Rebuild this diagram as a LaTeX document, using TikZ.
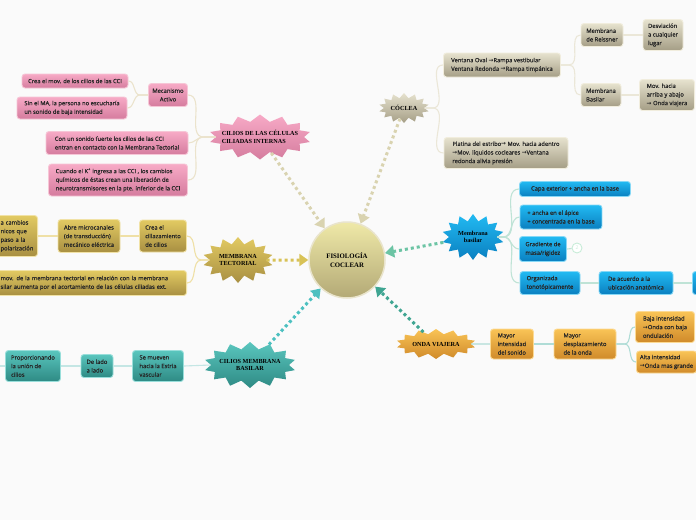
\documentclass[tikz,border=0pt]{standalone}
\usepackage{fontspec}
\setmainfont{Open Sans}
\newfontfamily\boxfont[BoldFont={Open Sans},BoldFeatures={FakeBold=0.5}]{Open Sans}
\newfontfamily\titlefont{Liberation Serif}
\newfontfamily\djv{DejaVu Sans}
\newcommand\myarr{{\djv →}}
\usetikzlibrary{shapes.symbols,arrows.meta}
\definecolor{bg}{HTML}{FAFAFA}
\definecolor{txt}{HTML}{262626}
\definecolor{pinkT}{HTML}{F7AAC6}\definecolor{pinkB}{HTML}{D57C9E}\definecolor{pinkE}{HTML}{F6C6D6}
\definecolor{goldT}{HTML}{E2CA62}\definecolor{goldB}{HTML}{A88F42}\definecolor{goldE}{HTML}{F1E2A6}
\definecolor{tealT}{HTML}{5AC6BE}\definecolor{tealB}{HTML}{2E8A84}\definecolor{tealE}{HTML}{98DEDA}
\definecolor{beigeT}{HTML}{E6E2CE}\definecolor{beigeB}{HTML}{A59E86}\definecolor{beigeE}{HTML}{F1EDDD}
\definecolor{blueT}{HTML}{22BAF2}\definecolor{blueB}{HTML}{0A7FC0}\definecolor{blueE}{HTML}{86D8F6}
\definecolor{oranT}{HTML}{F9C456}\definecolor{oranB}{HTML}{D08A2A}\definecolor{oranE}{HTML}{FCDA94}
\definecolor{hubT}{HTML}{EFE9A8}\definecolor{hubB}{HTML}{B3A976}\definecolor{hubE}{HTML}{E9E4CC}
\definecolor{pinkL}{HTML}{EBE3CC}\definecolor{goldL}{HTML}{EFE0A6}\definecolor{tealL}{HTML}{C4E6E4}
\definecolor{beigeL}{HTML}{EBE7D8}\definecolor{blueL}{HTML}{BFE3D6}\definecolor{oranL}{HTML}{AFDCD6}
\definecolor{aBeige}{HTML}{D9D3B0}\definecolor{aGold}{HTML}{D8C256}\definecolor{aGreen}{HTML}{6CC4A4}
\definecolor{aTeal}{HTML}{4CC0C0}\definecolor{aDark}{HTML}{3FA592}
\definecolor{twoC}{HTML}{C8ECD8}
\tikzset{
  box/.style={rounded corners=3pt, font=\boxfont\bfseries\fontsize{5.8}{8.6}\selectfont, text=txt, align=left,
    inner xsep=3.5pt, inner ysep=2pt, line width=0.9pt},
  pinkbox/.style={box, top color=pinkT, bottom color=pinkB, draw=pinkE},
  goldbox/.style={box, top color=goldT, bottom color=goldB, draw=goldE},
  tealbox/.style={box, top color=tealT, bottom color=tealB, draw=tealE},
  beigebox/.style={box, top color=beigeT, bottom color=beigeB, draw=beigeE},
  bluebox/.style={box, top color=blueT, bottom color=blueB, draw=blueE},
  oranbox/.style={box, top color=oranT, bottom color=oranB, draw=oranE},
  burst/.style={starburst, starburst points=14, starburst point height=7pt, random starburst=0,
    font=\titlefont\bfseries\fontsize{6.2}{7.6}\selectfont, text=black, align=center, inner sep=1pt},
  hubarrow/.style={line width=3pt, dash pattern=on 3pt off 3pt, -{Triangle[length=9pt,width=12pt]}},
  link/.style={line width=1.1pt},
}
\begin{document}
\begin{tikzpicture}[x=1pt,y=-1pt]
\useasboundingbox[fill=bg] (0,0) rectangle (696,520);

% ---------- hub ----------
\node[circle, minimum size=76pt, top color=hubT, bottom color=hubB, draw=hubE, line width=1.5pt,
  font=\titlefont\bfseries\fontsize{6.8}{8.6}\selectfont, align=center] (hub) at (347,260) {FISIOLOGÍA\\COCLEAR};

% ---------- pink ----------
\node[burst, top color=pinkT, bottom color=pinkB, minimum width=100pt, minimum height=45pt, inner xsep=-7pt, align=left] (cci) at (260,137) {CILIOS DE LAS CÉLULAS\\CILIADAS INTERNAS};
\node[pinkbox, minimum width=39pt, minimum height=23pt, align=center] (mec) at (168,95) {Mecanismo\\Activo};
\node[pinkbox, minimum width=106pt, minimum height=14pt] (p1) at (75,81) {Crea el mov. de los cilios de las CCI};
\node[pinkbox, minimum width=110pt, minimum height=22pt] (p2) at (72,108) {Sin el MA, la persona no escucharía\\un sonido de baja intensidad};
\node[pinkbox, minimum width=142pt, minimum height=23pt] (p3) at (117,143) {Con un sonido fuerte los cilios de las CCI\\entran en contacto con la Membrana Tectorial};
\node[pinkbox, minimum width=139pt, minimum height=32pt] (p4) at (118,180) {Cuando el K\textsuperscript{+} ingresa a las CCI , los cambios\\químicos de éstas crean una liberación de\\neurotransmisores en la pte. inferior de la CCI};

% ---------- gold ----------
\node[burst, top color=goldT, bottom color=goldB, minimum width=62pt, minimum height=46pt] (mt) at (238,260) {MEMBRANA\\TECTORIAL};
\node[goldbox, minimum width=47pt, minimum height=32pt] (g1) at (163,236) {Crea el\\cillazamiento\\de cilios};
\node[goldbox, minimum width=62pt, minimum height=33pt] (g2) at (89,236) {Abre microcanales\\(de transducción)\\mecánico eléctrica};
\node[goldbox, anchor=east, text width=52pt, inner xsep=3pt, minimum height=41pt] (g3) at (38,236)
  {\hspace*{18pt}a cambios\\\hspace*{18pt}nicos que\\\hspace*{18pt}paso a la\\\hspace*{18pt}polarización};
\node[goldbox, anchor=east, text width=200pt, inner xsep=3pt, minimum height=25pt] (g4) at (187,283)
  {\hspace*{17pt}mov. de la membrana tectorial en relación con la membrana\\\hspace*{17pt}silar aumenta por el acortamiento de las células ciliadas ext.};

% ---------- teal ----------
\node[burst, top color=tealT, bottom color=tealB, minimum width=92pt, minimum height=46pt, inner xsep=-3pt] (cmb) at (250,365) {CILIOS MEMBRANA\\BASILAR};
\node[tealbox, minimum width=51pt, minimum height=31pt] (t1) at (158,366) {Se mueven\\hacia la Estria\\vascular};
\node[tealbox, minimum width=32pt, minimum height=23pt] (t2) at (97,366) {De lado\\a lado};
\node[tealbox, minimum width=55pt, minimum height=31pt] (t3) at (33,366) {Proporcionando\\la unión de\\cilios};
\coordinate (tl) at (0,366);

% ---------- beige ----------
\node[burst, top color=beigeT, bottom color=beigeB, minimum width=42pt, minimum height=30pt, starburst point height=5pt] (coc) at (404,108) {CÓCLEA};
\node[beigebox, minimum width=117pt, minimum height=24pt] (b1) at (502,65) {Ventana Oval \myarr Rampa vestibular\\Ventana Redonda \myarr Rampa timpánica};
\node[beigebox, minimum width=124pt, minimum height=31pt] (b2) at (506,153) {Platina del estribo\myarr{} Mov. hacia adentro\\\myarr Mov. líquidos cocleares \myarr Ventana\\redonda alivia presión};
\node[beigebox, minimum width=42pt, minimum height=23pt] (b3) at (602,35) {Membrana\\de Reissner};
\node[beigebox, minimum width=40pt, minimum height=23pt] (b4) at (601,95) {Membrana\\Basilar};
\node[beigebox, minimum width=40pt, minimum height=31pt] (b5) at (663,35) {Desviación\\a cualquier\\lugar};
\node[beigebox, minimum width=55pt, minimum height=31pt] (b6) at (667,95) {Mov. hacia\\arriba y abajo\\\myarr{} Onda viajera};

% ---------- blue ----------
\node[burst, top color=blueT, bottom color=blueB, minimum width=62pt, minimum height=46pt] (mb) at (473,237) {Membrana\\basilar};
\node[bluebox, minimum width=111pt, minimum height=15pt] (u1) at (575,189) {Capa exterior + ancha en la base};
\node[bluebox, minimum width=82pt, minimum height=24pt] (u2) at (561,217) {+ ancha en el ápice\\+ concentrada en la base};
\node[bluebox, minimum width=47pt, minimum height=25pt] (u3) at (543,249) {Gradiente de\\masa/rigidez};
\node[circle, draw=twoC, line width=0.9pt, fill=white, minimum size=10pt, inner sep=0pt,
  font=\fontsize{5}{6}\selectfont, text=twoC] (two) at (577,248) {2};
\node[bluebox, minimum width=60pt, minimum height=23pt] (u4) at (550,283) {Organizada\\tonotópicamente};
\node[bluebox, minimum width=74pt, minimum height=23pt] (u5) at (636,283) {De acuerdo a la\\ubicación anatómica};
\node[bluebox, anchor=west, minimum width=30pt, minimum height=23pt] (u6) at (692,283) {};

% ---------- orange ----------
\node[burst, top color=oranT, bottom color=oranB, minimum width=72pt, minimum height=30pt, starburst point height=5pt] (ov) at (436,344) {ONDA VIAJERA};
\node[oranbox, minimum width=43pt, minimum height=30pt] (o1) at (512,344) {Mayor\\intensidad\\del sonido};
\node[oranbox, minimum width=62pt, minimum height=30pt] (o2) at (585,344) {Mayor\\desplazamiento\\de la onda};
\node[oranbox, minimum width=59pt, minimum height=31pt] (o3) at (665,327) {Baja intensidad\\\myarr Onda con baja\\ondulación};
\node[oranbox, anchor=west, minimum height=22pt] (o4) at (636,362) {Alta intensidad\\\myarr Onda mas grande};

% ---------- links ----------
\draw[link, pinkL] (cci.west) -- ++(-12,0) to[out=180,in=0] (mec.east);
\draw[link, pinkL] (cci.west) -- ++(-12,0) to[out=180,in=0] (p3.east);
\draw[link, pinkL] (cci.west) -- ++(-12,0) to[out=180,in=0] (p4.east);
\draw[link, pinkL] (mec.west) -- ++(-8,0) to[out=180,in=0] (p1.east);
\draw[link, pinkL] (mec.west) -- ++(-8,0) to[out=180,in=0] (p2.east);

\draw[link, goldL] (mt.west) -- ++(-8,0) to[out=180,in=0] (g1.east);
\draw[link, goldL] (mt.west) -- ++(-8,0) to[out=180,in=0] (g4.east);
\draw[link, goldL] (g1.west) -- (g2.east);
\draw[link, goldL] (g2.west) -- (g3.east);

\draw[link, tealL] (cmb.west) -- (t1.east);
\draw[link, tealL] (t1.west) -- (t2.east);
\draw[link, tealL] (t2.west) -- (t3.east);
\draw[link, tealL] (t3.west) -- (tl);

\draw[link, beigeL] (coc.east) -- ++(8,0) to[out=0,in=180] (b1.west);
\draw[link, beigeL] (coc.east) -- ++(8,0) to[out=0,in=180] (b2.west);
\draw[link, beigeL] (b1.east) -- ++(8,0) to[out=0,in=180] (b3.west);
\draw[link, beigeL] (b1.east) -- ++(8,0) to[out=0,in=180] (b4.west);
\draw[link, beigeL] (b3.east) -- (b5.west);
\draw[link, beigeL] (b4.east) -- (b6.west);

\draw[link, blueL] (mb.east) -- ++(6,0) to[out=0,in=180] (u1.west);
\draw[link, blueL] (mb.east) -- ++(6,0) to[out=0,in=180] (u2.west);
\draw[link, blueL] (mb.east) -- ++(6,0) to[out=0,in=180] (u3.west);
\draw[link, blueL] (mb.east) -- ++(6,0) to[out=0,in=180] (u4.west);
\draw[link, blueL] (u3.east) -- (two);
\draw[link, blueL] (u4.east) -- (u5.west);
\draw[link, blueL] (u5.east) -- (u6.west);

\draw[link, oranL] (ov.east) -- (o1.west);
\draw[link, oranL] (o1.east) -- (o2.west);
\draw[link, oranL] (o2.east) -- ++(8,0) to[out=0,in=180] (o3.west);
\draw[link, oranL] (o2.east) -- ++(8,0) to[out=0,in=180] (o4.west);

% ---------- hub arrows ----------
\draw[hubarrow, aBeige] (cci) -- (hub);
\draw[hubarrow, aBeige] (coc) -- (hub);
\draw[hubarrow, aGold] (mt) -- (hub);
\draw[hubarrow, aGreen] (mb) -- (hub);
\draw[hubarrow, aTeal] (cmb) -- (hub);
\draw[hubarrow, aDark] (ov) -- (hub);
\end{tikzpicture}
\end{document}
